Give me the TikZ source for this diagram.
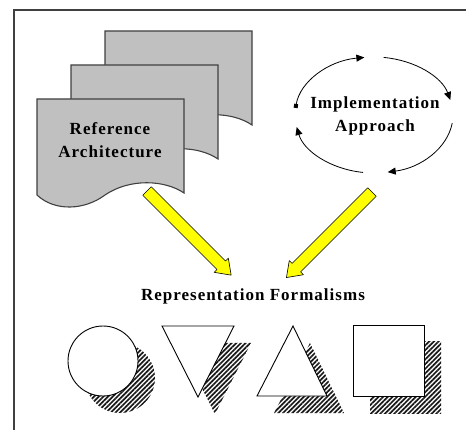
\documentclass[tikz,border=0pt]{standalone}
\usepackage{fontspec}
\setmainfont{Liberation Serif}
\newfontfamily\lblfont[LetterSpace=6]{Liberation Serif}
\usetikzlibrary{arrows.meta,patterns.meta}
\definecolor{docgray}{HTML}{C0C0C0}
\definecolor{docline}{HTML}{404040}
\definecolor{yel}{HTML}{FFFF00}
\tikzset{
  docbox/.style={fill=docgray,draw=docline,line width=1.1pt},
  lbl/.style={font=\lblfont\bfseries\fontsize{17}{23}\selectfont,align=center,inner sep=0pt},
  cyc/.style={draw=black,line width=0.8pt,-{Triangle[length=8pt,width=7pt]}},
  yarrow/.style={fill=yel,draw=black,line width=0.6pt,line join=round},
  shade/.style={pattern={Lines[angle=45,distance=3.3pt,line width=1.7pt]},pattern color=black!90},
  shapeline/.style={fill=white,draw=black,line width=0.9pt}
}
\newcommand{\docshape}[2]{%
  \begin{scope}[shift={(#1,#2)}]
    \path[docbox] (0,0) -- (147,0) -- (147,94)
      .. controls (128,81) and (93,79) .. (68,96)
      .. controls (48,111) and (18,113) .. (0,96) -- cycle;
  \end{scope}}
\begin{document}
\begin{tikzpicture}[x=1pt,y=-1pt]
\useasboundingbox (0,0) rectangle (466,430);
% frame
\draw[line width=1.5pt,black!75] (466,10) -- (14,10) -- (14,430);
% documents
\docshape{105}{31}
\docshape{71}{65}
\docshape{37}{99}
\node[lbl] (ref) at (110,140) {Reference\\Architecture};
% cycle
\coordinate (c) at (374,115);
\node[lbl] (impl) at (375,116) {Implementation\\Approach};
\draw[draw=black,line width=0.8pt,{Square[length=4pt,width=4pt]}-{Triangle[length=8pt,width=7pt]}]
  ([shift={(187:79 and 58)}]c) arc[start angle=187,end angle=263,x radius=79,y radius=58];
\draw[cyc] ([shift={(277:79 and 58)}]c) arc[start angle=277,end angle=345,x radius=79,y radius=58];
\draw[cyc] ([shift={(8:79 and 58)}]c) arc[start angle=8,end angle=80,x radius=79,y radius=58];
\draw[cyc] ([shift={(98:79 and 58)}]c) arc[start angle=98,end angle=168,x radius=79,y radius=58];
% yellow arrows
\coordinate (a1) at (147,191);
\coordinate (a2) at (372,192);
\begin{scope}[shift={(a1)},rotate=-45]
  \path[yarrow] (0,-6) -- (105,-6) -- (105,-10) -- (119,0) -- (105,10) -- (105,6) -- (0,6) -- cycle;
\end{scope}
\begin{scope}[shift={(a2)},rotate=-135]
  \path[yarrow] (0,-6) -- (107,-6) -- (107,-10) -- (121,0) -- (107,10) -- (107,6) -- (0,6) -- cycle;
\end{scope}
\node[lbl] (rep) at (253,296) {Representation Formalisms};
% circle
\path[shade] (120,378) circle[radius=35];
\path[shapeline] (103,361) circle[radius=35];
% down triangle
\path[shade] (179,343) -- (251,343) -- (215,414) -- cycle;
\path[shapeline] (162,326) -- (234,326) -- (198,397) -- cycle;
% up triangle
\path[shade] (310,343) -- (344,413) -- (274,413) -- cycle;
\path[shapeline] (293,326) -- (327,396) -- (257,396) -- cycle;
% square
\path[shade] (370,342) rectangle (441,413);
\path[shapeline] (353,325) rectangle (424,396);
\end{tikzpicture}
\end{document}
